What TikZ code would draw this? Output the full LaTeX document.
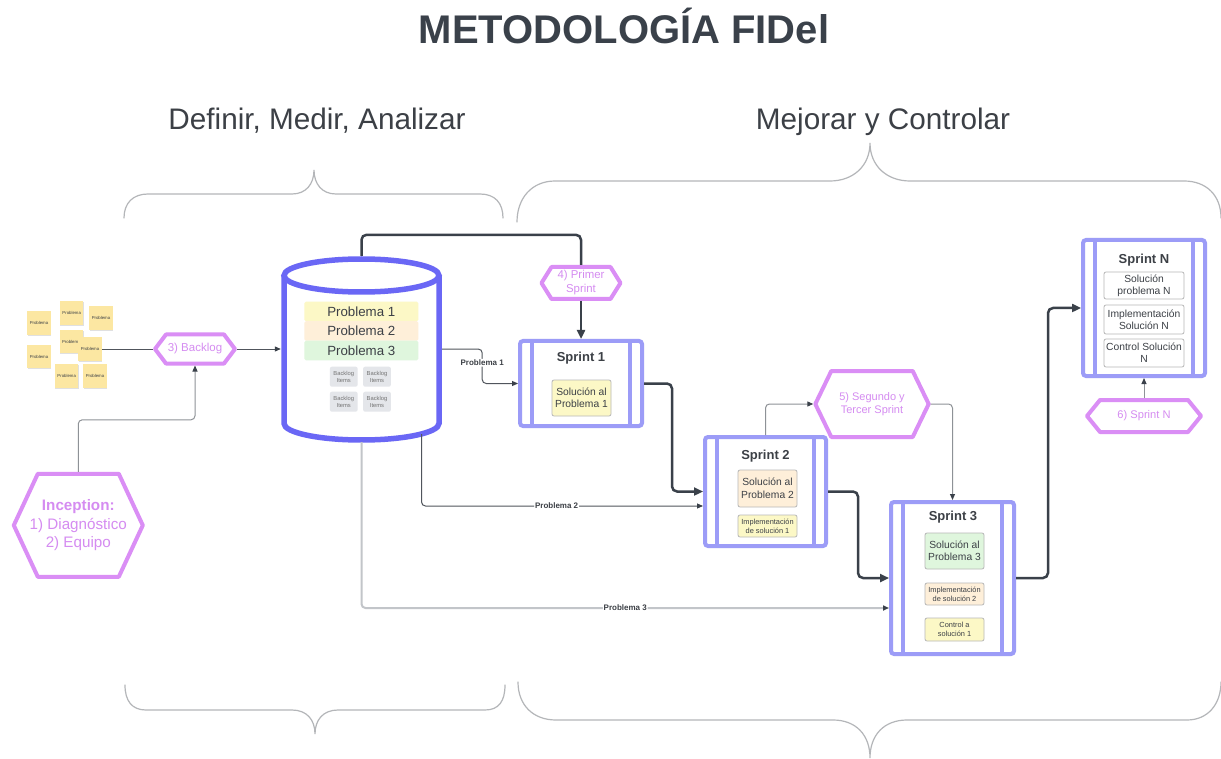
\documentclass[tikz,border=0pt]{standalone}
\usepackage{fontspec}
\setmainfont{Liberation Sans}
\usetikzlibrary{arrows.meta,calc,shadows}

\definecolor{ink}{HTML}{3A414A}
\definecolor{txt}{HTML}{3C4046}
\definecolor{dbblue}{HTML}{6A67F5}
\definecolor{sprintblue}{HTML}{9C9CF7}
\definecolor{hexviolet}{HTML}{DA8EF5}
\definecolor{hextxt}{HTML}{D58CF1}
\definecolor{bracegray}{HTML}{B4B6B9}
\definecolor{linkgray}{HTML}{8E9297}
\definecolor{linkdark}{HTML}{50555C}
\definecolor{lightline}{HTML}{C2C5C9}
\definecolor{noteyellow}{HTML}{FCE7A2}
\definecolor{pyellow}{HTML}{FCF8C6}
\definecolor{ppeach}{HTML}{FEEFD9}
\definecolor{pgreen}{HTML}{DFF6DD}
\definecolor{itemgray}{HTML}{E4E6EA}
\definecolor{boxedge}{HTML}{B8B8B8}

\tikzset{
  brace/.style={draw=bracegray, line width=1.2pt, line cap=round},
  hexline/.style={draw=hexviolet, line width=4pt, line join=round, fill=white},
  hextext/.style={text=hextxt, align=center, inner sep=0pt, outer sep=2pt},
  dbline/.style={draw=dbblue, line width=5.5pt, fill=white},
  sprintbox/.style={draw=sprintblue, line width=4pt, fill=white, rounded corners=3pt, inner sep=0pt,
    path picture={\draw[draw=sprintblue, line width=4pt]
      ([xshift=12pt]path picture bounding box.north west) -- ([xshift=12pt]path picture bounding box.south west)
      ([xshift=-12pt]path picture bounding box.north east) -- ([xshift=-12pt]path picture bounding box.south east);}},
  sprinttitle/.style={font=\bfseries\fontsize{13}{15}\selectfont, text=txt, inner sep=0pt},
  solbox/.style={draw=boxedge, line width=0.8pt, rounded corners=2pt, align=center, inner sep=0pt, text=txt},
  note/.style={fill=noteyellow, minimum size=23.5pt, inner sep=0pt, font=\fontsize{4.3}{5}\selectfont, text=txt,
    drop shadow={shadow xshift=0.5pt, shadow yshift=-0.8pt, fill=black, opacity=0.12}},
  stripe/.style={minimum width=114pt, minimum height=19.5pt, inner sep=0pt, rounded corners=1.5pt,
    font=\fontsize{13.3}{15}\selectfont, text=txt},
  item/.style={fill=itemgray, rounded corners=2pt, minimum width=27.7pt, minimum height=20pt, inner sep=0pt,
    align=center, font=\fontsize{5.8}{7}\selectfont, text=black!55},
  thicklink/.style={draw=ink, line width=2.5pt, rounded corners=5pt, -{Triangle[length=9pt,width=8pt]}},
  thinlink/.style={draw=#1, line width=1pt, rounded corners=4pt, -{Triangle[length=6pt,width=5pt,color=ink]}},
  thinlink/.default=linkgray,
  plainlink/.style={draw=linkdark, line width=1pt},
  lbl/.style={fill=white, inner sep=1pt, font=\bfseries\fontsize{8}{9}\selectfont, text=txt},
  phase/.style={font=\fontsize{29.7}{34}\selectfont, text=txt, inner sep=0pt},
}

% hexagon: name, centre x, centre y, half width, half height, inset, font size, line skip, text
\newcommand{\hexnode}[9]{%
  \draw[hexline] (#2-#4,#3) -- (#2-#4+#6,#3-#5) -- (#2+#4-#6,#3-#5) -- (#2+#4,#3)
    -- (#2+#4-#6,#3+#5) -- (#2-#4+#6,#3+#5) -- cycle;
  \node[hextext, minimum width={2*#4pt}, minimum height={2*#5pt}, font=\fontsize{#7}{#8}\selectfont] (#1) at (#2,#3) {#9};%
}

\begin{document}
\begin{tikzpicture}[x=1pt,y=-1pt]
\fill[white] (0,0) rectangle (1221,759);
\useasboundingbox (0,0) rectangle (1221,759);

% headings
\node[font=\bfseries\fontsize{40}{48}\selectfont, text=ink, anchor=base, inner sep=0pt] (title) at (624,44) {METODOLOGÍA FIDel};
\node[phase, anchor=base] (dma) at (317,130) {Definir, Medir, Analizar};
\node[phase, anchor=base] (myc) at (883,130) {Mejorar y Controlar};

% braces
\draw[brace] (124,218) .. controls (124,203) and (133,194) .. (148,194) -- (292,194)
  .. controls (306,194) and (314,184) .. (314,170) .. controls (314,184) and (322,194) .. (336,194)
  -- (480,194) .. controls (495,194) and (503,203) .. (503,218);
\draw[brace] (517,222) .. controls (517,198) and (532,181) .. (555,181) -- (830,181)
  .. controls (853,181) and (870,166) .. (870,143) .. controls (870,166) and (887,181) .. (910,181)
  -- (1184,181) .. controls (1206,181) and (1221,195) .. (1221,218);
\draw[brace] (125,685) .. controls (125,701) and (132,710) .. (146,710) -- (292,710)
  .. controls (307,710) and (315,720) .. (315,734) .. controls (315,720) and (323,710) .. (338,710)
  -- (485,710) .. controls (499,710) and (505,701) .. (505,685);
\draw[brace] (518,682) .. controls (518,705) and (533,720) .. (556,720) -- (833,720)
  .. controls (856,720) and (870,735) .. (870,758) .. controls (870,735) and (884,720) .. (907,720)
  -- (1187,720) .. controls (1208,720) and (1221,704) .. (1221,682);

% sticky notes
\node[note] (n1) at (39,323) {Problema};
\node[note] (n2) at (71.7,313) {Problema};
\node[note] (n3) at (101,318) {Problema};
\node[note] (n4) at (71.3,341.7) {Problema};
\node[note] (n5) at (90,349) {Problema};
\node[note] (n6) at (39,356.7) {Problema};
\node[note] (n7) at (66.7,376) {Problema};
\node[note] (n8) at (95,376) {Problema};

% hexagons
\hexnode{hb}{195}{349}{40}{14.5}{11}{11.5}{13}{3) Backlog}
\hexnode{inc}{78.3}{525.3}{64.5}{51.5}{24}{15.2}{18.5}{\textbf{Inception:}\\1) Diagnóstico\\2) Equipo}
\hexnode{hp}{581}{283}{39.5}{16}{10}{11.4}{14}{4) Primer\\Sprint}
\hexnode{hs}{872}{404}{56.7}{33}{16}{11}{13.5}{5) Segundo y\\Tercer Sprint}
\hexnode{hn}{1144}{416}{57}{16}{13}{11.1}{13}{6) Sprint N}

% database cylinder
\node[minimum width=161pt, minimum height=186pt, inner sep=0pt] (db) at (361.5,349) {};
\draw[dbline] (284,275.5) -- (284,423.5) arc[start angle=180, end angle=0, x radius=77.5, y radius=16.5] -- (439,275.5);
\draw[dbline] (361.5,275.5) ellipse[x radius=77.5, y radius=16.5];
\node[stripe, fill=pyellow] (p1) at (361.3,311.5) {Problema 1};
\node[stripe, fill=ppeach] (p2) at (361.3,331) {Problema 2};
\node[stripe, fill=pgreen] (p3) at (361.3,350.5) {Problema 3};
\node[item] (i1) at (343.8,376.7) {Backlog\\Items};
\node[item] (i2) at (377,376.7) {Backlog\\Items};
\node[item] (i3) at (343.8,401.7) {Backlog\\Items};
\node[item] (i4) at (377,401.7) {Backlog\\Items};

% sprint 1
\node[sprintbox, minimum width=122pt, minimum height=85pt] (s1) at (581,383.5) {};
\node[sprinttitle] (s1t) at (581,358.5) {Sprint 1};
\node[solbox, fill=pyellow, minimum width=59pt, minimum height=36pt, font=\fontsize{10.3}{12.5}\selectfont] (s1a) at (581.5,398) {Solución al\\Problema 1};

% sprint 2
\node[sprintbox, minimum width=121pt, minimum height=109pt] (s2) at (765.5,491.5) {};
\node[sprinttitle] (s2t) at (765.5,456) {Sprint 2};
\node[solbox, fill=ppeach, minimum width=59pt, minimum height=37pt, font=\fontsize{10.3}{12.5}\selectfont] (s2a) at (767.5,488.5) {Solución al\\Problema 2};
\node[solbox, fill=pyellow, minimum width=59pt, minimum height=22pt, font=\fontsize{7.4}{9}\selectfont] (s2b) at (767.5,526) {Implementación\\de solución 1};

% sprint 3
\node[sprintbox, minimum width=123pt, minimum height=152pt] (s3) at (952.5,578) {};
\node[sprinttitle] (s3t) at (953,517) {Sprint 3};
\node[solbox, fill=pgreen, minimum width=59pt, minimum height=36pt, font=\fontsize{10.3}{12.5}\selectfont] (s3a) at (954.5,551) {Solución al\\Problema 3};
\node[solbox, fill=ppeach, minimum width=59pt, minimum height=22pt, font=\fontsize{7.4}{9}\selectfont] (s3b) at (954.5,594) {Implementación\\de solución 2};
\node[solbox, fill=pyellow, minimum width=59pt, minimum height=23pt, font=\fontsize{7.4}{9}\selectfont] (s3c) at (954.5,629.5) {Control a\\solución 1};

% sprint N
\node[sprintbox, minimum width=122pt, minimum height=136pt] (sN) at (1144,308) {};
\node[sprinttitle] (sNt) at (1144,260) {Sprint N};
\node[solbox, fill=white, minimum width=80pt, minimum height=27pt, font=\fontsize{10.3}{12}\selectfont] (sNa) at (1144,285.5) {Solución\\problema N};
\node[solbox, fill=white, minimum width=80pt, minimum height=29pt, font=\fontsize{10.3}{12}\selectfont] (sNb) at (1144,319.5) {Implementación\\Solución N};
\node[solbox, fill=white, minimum width=80pt, minimum height=28pt, font=\fontsize{10.3}{12}\selectfont] (sNc) at (1144,353) {Control Solución\\N};

% connectors
\draw[plainlink] (n5.east) -- (hb.west);
\draw[thinlink=linkdark] (hb.east) -- (db.west);
\draw[thinlink] (inc.north) -- ++(0,-52) -| (hb.south);
\draw[thicklink, -] (db.north) -- ++(0,-21) -| (hp.north);
\draw[thicklink] (hp.south) -- (s1.north);
\draw[thinlink=linkdark] (db.east) -- ++(40,0) |- node[lbl, pos=0.2] (l1) {Problema 1} (s1.west);
\draw[thinlink=linkdark] ([shift={(60,-8)}]db.south) |- node[lbl, pos=0.74] (l2) {Problema 2} ([yshift=-14.5pt]s2.west);
\draw[thinlink=lightline, line width=2pt] (db.south) |- node[lbl, pos=0.75] (l3) {Problema 3} ([yshift=-30pt]s3.west);
\draw[thicklink] (s1.east) -- ++(28,0) |- (s2.west);
\draw[thinlink] (s2.north) |- (hs.west);
\draw[thinlink] (hs.east) -| (s3.north);
\draw[thicklink] (s2.east) -- ++(30,0) |- (s3.west);
\draw[thicklink] (s3.east) -- ++(32,0) |- (sN.west);
\draw[thinlink] (hn.north) -- (hn.north |- sN.south);
\end{tikzpicture}
\end{document}
